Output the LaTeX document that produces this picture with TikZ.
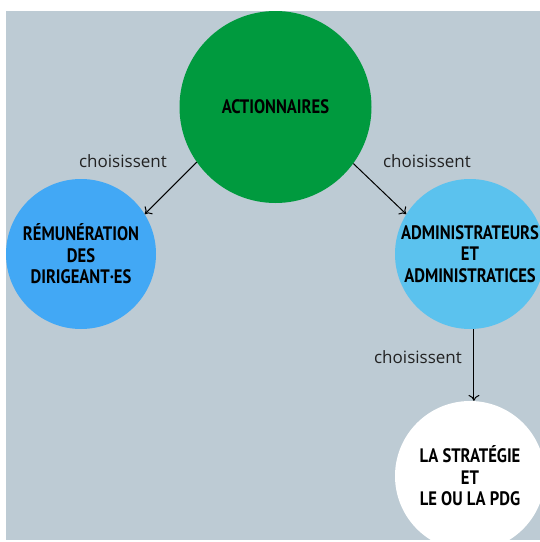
\documentclass[tikz,border=0pt]{standalone}
\usepackage{fontspec}
\usetikzlibrary{arrows.meta}
\setmainfont{PT Sans}
\newfontfamily\titlefont[FakeStretch=0.85]{PT Sans Bold}
\newfontfamily\labelfont{Open Sans}
\definecolor{bgc}{HTML}{BDCBD4}
\definecolor{greenc}{HTML}{009A3E}
\definecolor{bluec}{HTML}{42A8F5}
\definecolor{lightbluec}{HTML}{5BC2EE}
\definecolor{labc}{HTML}{222222}
\begin{document}
\begin{tikzpicture}[x=1pt,y=-1pt,
  bubble/.style={circle,inner sep=0pt,text=black,align=center,
    font=\titlefont\fontsize{19.5}{21.5}\selectfont},
  lab/.style={text=labc,font=\labelfont\fontsize{17}{19}\selectfont,inner sep=0pt},
  arr/.style={-{To[length=6pt,width=11pt,open]},line width=1pt,black}]
\useasboundingbox (0,0) rectangle (540,542);
\fill[white] (0,0) rectangle (540,542);
\begin{scope}
\clip (6,11) rectangle (540,540);
\fill[bgc] (6,11) rectangle (540,540);
\node[bubble,fill=greenc,minimum size=192pt] (act) at (275.5,107) {ACTIONNAIRES};
\node[bubble,fill=bluec,minimum size=150pt] (rem) at (81,254) {RÉMUNÉRATION\\DES\\DIRIGEANT·ES};
\node[bubble,fill=lightbluec,minimum size=150pt] (adm) at (470,254) {ADMINISTRATEURS\\ET\\ADMINISTRATICES};
\node[bubble,fill=white,minimum size=150pt] (pdg) at (470,476) {LA STRATÉGIE\\ET\\LE OU LA PDG};
\end{scope}
\draw[arr] (act.215.7) -- (rem.32);
\draw[arr] (act.324.3) -- (adm.148);
\draw[arr] (adm.-87.7) -- (pdg.87.7);
\node[lab] (l1) at (123,161) {choisissent};
\node[lab] (l2) at (427,161) {choisissent};
\node[lab] (l3) at (418,357) {choisissent};
\end{tikzpicture}
\end{document}
